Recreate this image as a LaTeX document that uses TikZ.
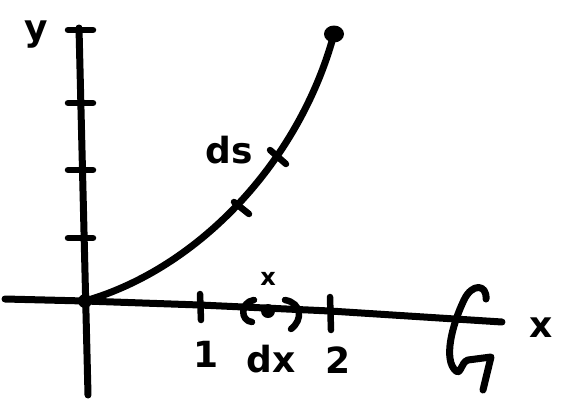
\documentclass[tikz,border=0pt]{standalone}
\usepackage{fontspec}
\setmainfont{DejaVu Sans}
\usetikzlibrary{arrows.meta,shapes.geometric}
\begin{document}
\begin{tikzpicture}[x=1pt,y=-1pt,
  ink/.style={line width=7pt,line cap=round,line join=round},
  tickmark/.style={line width=6.5pt,line cap=round,line join=round},
  lbl/.style={font=\fontsize{36}{36}\selectfont\bfseries,inner sep=0pt}]
\useasboundingbox (0,0) rectangle (563,400);
% axes
\coordinate (ytop) at (79,28);
\coordinate (ybot) at (88,395);
\coordinate (xl) at (5,299);
\coordinate (xr) at (502,322);
\coordinate (O) at (85,301);
\draw[ink] (ytop) -- (ybot);
\draw[ink] (xl) -- (O) -- (200,305) -- (330,311) -- (xr);
% y ticks
\foreach \yy/\n in {30/a,103/b,170/c,238/d}{
  \coordinate (yl\n) at (68,\yy);
  \coordinate (yr\n) at (93,\yy);
  \draw[tickmark] (yl\n) -- (yr\n);}
% x ticks
\coordinate (t1a) at (200,294); \coordinate (t1b) at (201,320);
\coordinate (t2a) at (330,297); \coordinate (t2b) at (331,330);
\draw[tickmark] (t1a) -- (t1b);
\draw[tickmark] (t2a) -- (t2b);
% dx interval
\coordinate (lpa) at (254,300); \coordinate (lpb) at (252,322);
\coordinate (rpa) at (285,300); \coordinate (rpb) at (291,329);
\draw[tickmark] (lpa) .. controls (240,302) and (240,321) .. (lpb);
\draw[tickmark] (rpa) .. controls (302,303) and (303,320) .. (rpb);
\node[circle,fill,inner sep=0pt,minimum size=14pt] (xp) at (268,311) {};
% curve
\coordinate (end) at (334,34);
\draw[ink] (O) .. controls (200,268) and (300,160) .. (end);
\node[ellipse,fill,inner sep=0pt,minimum width=20pt,minimum height=17pt] (enddot) at (end) {};
\node[circle,fill,inner sep=0pt,minimum size=14pt] (odot) at (O) {};
% ds marks on curve
\coordinate (m1a) at (234,202); \coordinate (m1b) at (249,214);
\coordinate (m2a) at (270,150); \coordinate (m2b) at (286,164);
\draw[tickmark] (m1a) -- (m1b);
\draw[tickmark] (m2a) -- (m2b);
% labels
\node[lbl] (ylab) at (36,35) {y};
\node[lbl] (dslab) at (229,150) {ds};
\node[lbl] (xsm) at (268,279) {\fontsize{24}{24}\selectfont x};
\node[lbl] (one) at (206,354) {1};
\node[lbl] (dxlab) at (271,359) {dx};
\node[lbl] (two) at (338,360) {2};
\node[lbl] (xlab) at (541,328) {x};
% rotation arrow
\coordinate (ra) at (486,299);
\coordinate (rb) at (483,390);
\draw[ink] (ra) .. controls (487,284) and (472,283) .. (464,300)
  .. controls (452,325) and (443,360) .. (456,371)
  .. controls (461,375) and (461,362) .. (468,360) -- (491,357) -- (rb);
\end{tikzpicture}
\end{document}
